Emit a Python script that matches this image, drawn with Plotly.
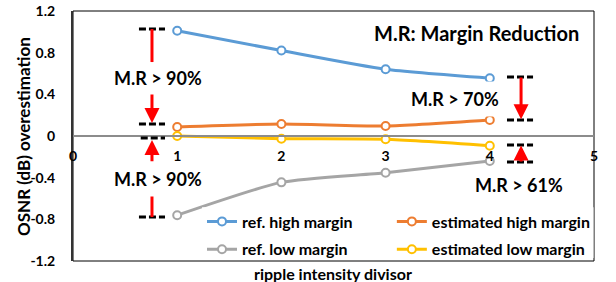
import plotly.graph_objects as go

divisor = [1, 2, 3, 4]
ref_high = [1.01, 0.82, 0.64, 0.555]
est_high = [0.087, 0.115, 0.096, 0.154]
ref_low = [-0.76, -0.445, -0.353, -0.24]
est_low = [0.0, -0.026, -0.032, -0.093]

series_names = ["ref. high margin", "estimated high margin", "ref. low margin", "estimated low margin"]
series_colors = ["#5B9BD5", "#ED7D31", "#A5A5A5", "#FFC000"]
series_values = [ref_high, est_high, ref_low, est_low]
series_legend = ["legend", "legend2", "legend", "legend2"]

y_ticks = [-1.2, -0.8, -0.4, 0, 0.4, 0.8, 1.2]
y_ticktext = ["-1.2", "-0.8", "-0.4", "0", "0.4", "0.8", "1.2"]
x_ticks = [0, 1, 2, 3, 4, 5]

FONT = "Lato"

fig = go.Figure()
for name, col, vals, lg in zip(series_names, series_colors, series_values, series_legend):
    fig.add_trace(go.Scatter(
        x=divisor, y=vals, name=name, mode="lines+markers", legend=lg, legendgroup=name,
        line=dict(color=col, width=3, shape="spline", smoothing=0.6),
        marker=dict(symbol="circle", size=8, color="white", line=dict(color=col, width=2)),
        cliponaxis=False,
    ))

RED = "#FF0000"
shapes = []
# frame
shapes.append(dict(type="rect", xref="paper", yref="paper", x0=0, y0=0, x1=1, y1=1,
                   line=dict(color="black", width=1), layer="below"))
# white legend background band
shapes.append(dict(type="rect", xref="paper", yref="paper", x0=0.2476, x1=0.999,
                   y0=0.012, y1=0.215, fillcolor="white", line=dict(width=0), layer="above"))

def dash_line(x0, x1, y):
    shapes.append(dict(type="line", xref="x", yref="y", x0=x0, x1=x1, y0=y, y1=y,
                       line=dict(color="black", width=3, dash="7px,3px")))

def red_line(x, y0, y1):
    shapes.append(dict(type="line", xref="x", yref="y", x0=x, x1=x, y0=y0, y1=y1,
                       line=dict(color=RED, width=3)))

# left group
dash_line(0.633, 0.883, 1.027)
dash_line(0.633, 0.883, 0.115)
dash_line(0.65, 0.883, -0.019)
dash_line(0.633, 0.883, -0.778)
red_line(0.758, 1.027, 0.71)
red_line(0.758, -0.576, -0.778)
# right group
dash_line(4.165, 4.415, 0.566)
dash_line(4.165, 4.415, 0.154)
dash_line(4.165, 4.415, -0.086)
dash_line(4.165, 4.415, -0.25)

annotations = []

def arrow(x, y_tip, y_tail):
    annotations.append(dict(x=x, y=y_tip, ax=x, ay=y_tail, xref="x", yref="y",
                            axref="x", ayref="y", text="", showarrow=True,
                            font=dict(size=1), borderpad=0,
                            arrowhead=2, arrowsize=1.0, arrowwidth=3, arrowcolor=RED,
                            standoff=0))

arrow(0.758, 0.125, 0.403)
arrow(0.758, -0.038, -0.25)
arrow(4.30, 0.16, 0.566)
arrow(4.30, -0.09, -0.25)

def label(text, x, y, size=18, bg=None, padx=0):
    d = dict(x=x, y=y, xref="x", yref="y", text=text, showarrow=False,
             font=dict(family=FONT, size=size, color="black", weight="bold"))
    if bg:
        d["bgcolor"] = bg
        d["borderpad"] = padx
    annotations.append(d)

label("M.R: Margin Reduction", 3.868, 0.99, size=20)
label("M.R > 90%", 0.82, 0.557)
label("M.R > 90%", 0.82, -0.413, bg="white", padx=6)
label("M.R > 70%", 3.666, 0.355, bg="white", padx=6)
label("M.R > 61%", 4.276, -0.47, bg="white", padx=6)

annotations.append(dict(x=0.499, y=-0.05, xref="paper", yref="paper",
                        text="ripple intensity divisor", showarrow=False,
                        yanchor="middle",
                        font=dict(family=FONT, size=16, color="black", weight="bold")))
annotations.append(dict(x=-0.096, y=0.5, xref="paper", yref="paper",
                        text="OSNR (dB) overestimation", showarrow=False, textangle=-90,
                        xanchor="center", yanchor="middle",
                        font=dict(family=FONT, size=17, color="black", weight="bold")))

legend_common = dict(orientation="v", xanchor="left", yanchor="top", bgcolor="rgba(0,0,0,0)",
                     font=dict(family=FONT, size=16, color="black", weight="bold"),
                     tracegroupgap=4, itemwidth=30)

fig.update_layout(
    width=616, height=282,
    margin=dict(l=73, r=22, t=11, b=21),
    paper_bgcolor="white", plot_bgcolor="white",
    showlegend=True,
    legend=dict(x=0.2476, y=0.226, **legend_common),
    legend2=dict(x=0.612, y=0.226, **legend_common),
    xaxis=dict(range=[0, 5], tickvals=x_ticks, showgrid=False, zeroline=False,
               anchor="free", position=0.5, showline=True, linecolor="#8C8C8C", linewidth=2,
               ticks="", ticklabelstandoff=7, automargin=False,
               tickfont=dict(family=FONT, size=14, color="black", weight="bold")),
    yaxis=dict(range=[-1.2, 1.2], tickvals=y_ticks, ticktext=y_ticktext, showgrid=False,
               zeroline=False, showline=True, linecolor="#333333", linewidth=2,
               ticks="", ticklabelstandoff=13, automargin=False,
               tickfont=dict(family=FONT, size=14, color="black", weight="bold")),
    yaxis2=dict(range=[-1.2, 1.2], overlaying="y", anchor="x", tickvals=[0.4, 0.8],
                showticklabels=False, showgrid=True, gridcolor="#1a1a1a", gridwidth=1,
                zeroline=False, showline=False, automargin=False),
    yaxis3=dict(range=[-1.2, 1.2], overlaying="y", anchor="x", tickvals=[-0.4, -0.8],
                showticklabels=False, showgrid=True, gridcolor="#8C8C8C", gridwidth=1.5,
                zeroline=False, showline=False, automargin=False),
    shapes=shapes,
    annotations=annotations,
)

fig.write_html("out.html", config={"displayModeBar": False},
               post_script="document.body.style.margin='0px';document.body.style.overflow='hidden';")
